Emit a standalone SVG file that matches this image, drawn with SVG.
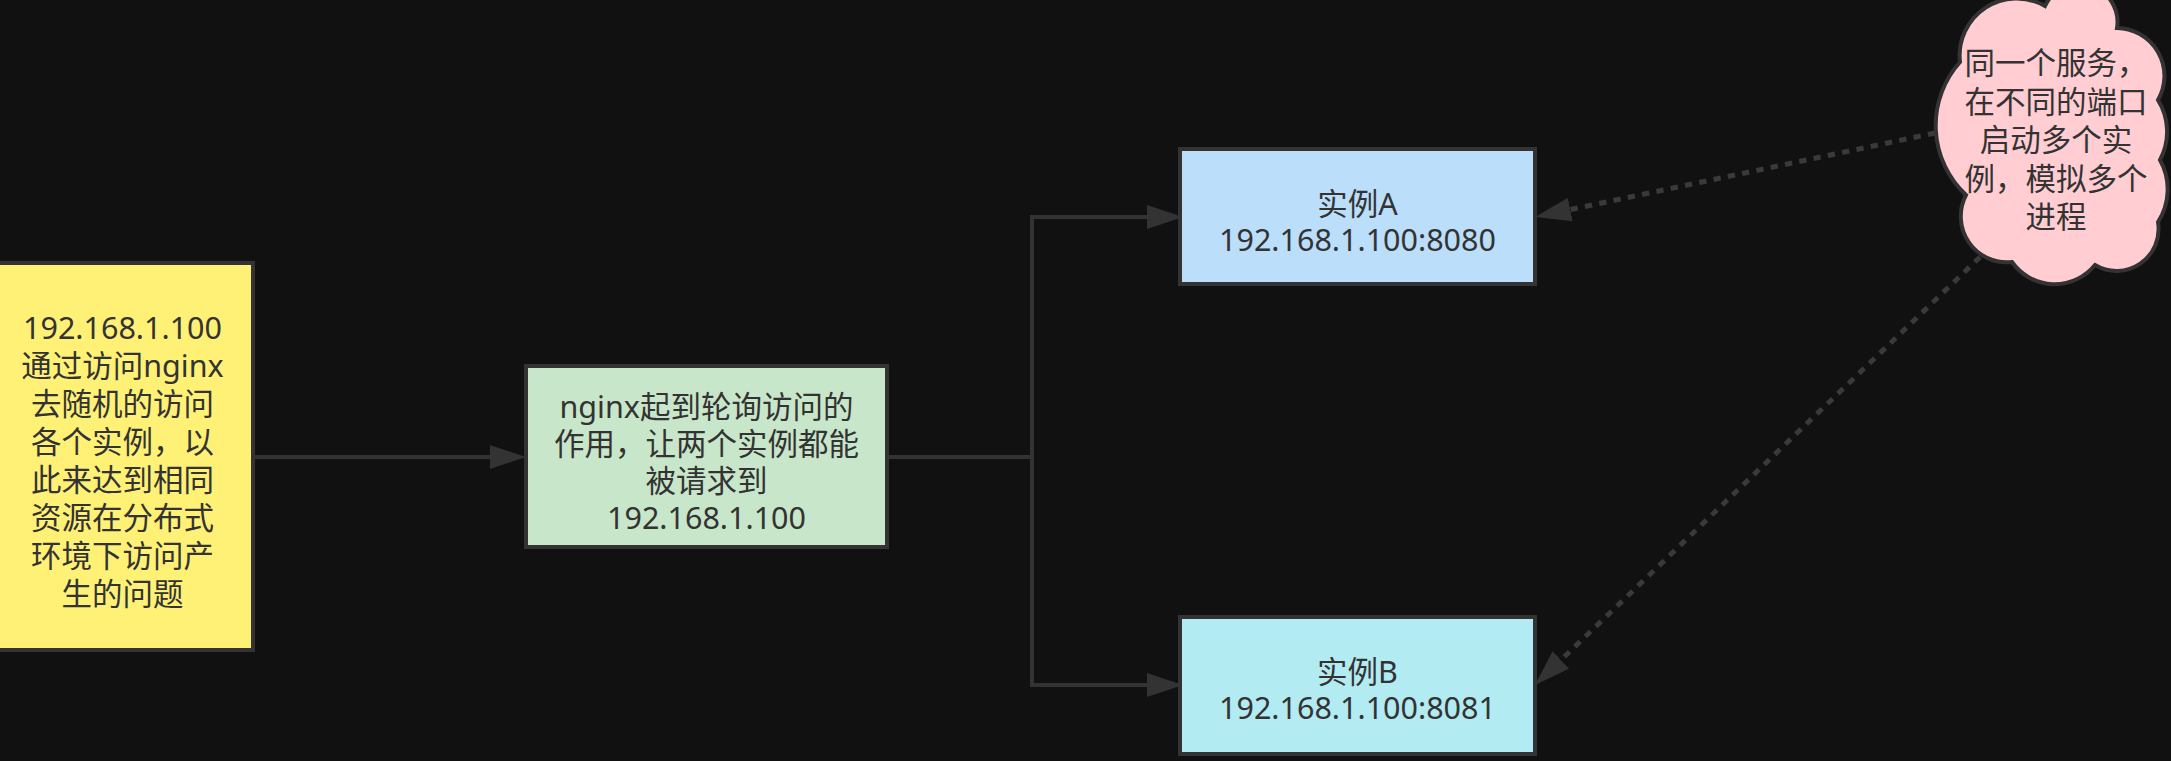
<svg xmlns="http://www.w3.org/2000/svg" width="2171" height="761" viewBox="0 0 2171 761">
<style>
.node rect, .node path { stroke: #333333; stroke-width: 4; }
.t { font-family: 'Noto Sans', 'Noto Sans CJK SC', sans-serif; font-size: 30.5px; fill: #333333; text-anchor: middle; }
.edge { fill: none; stroke: #333333; stroke-width: 4; }
.dash { stroke: #3a3a3a; stroke-width: 5; stroke-dasharray: 7.3 7.3; }
</style>
<defs>
<marker id="arrow" markerUnits="userSpaceOnUse" markerWidth="36" markerHeight="24" refX="16" refY="12" orient="auto" viewBox="0 0 36 24">
<path d="M0,0 L36,12 L0,24 Z" fill="#333333"/>
</marker>
</defs>
<rect x="0" y="0" width="2171" height="761" fill="#111111"/>
<g id="connectors">
<path class="edge" d="M253,457 H506" marker-end="url(#arrow)"/>
<path class="edge" d="M887,457 H1032 V217 H1163" marker-end="url(#arrow)"/>
<path class="edge" d="M887,457 H1032 V685 H1163" marker-end="url(#arrow)"/>
<path class="edge dash" d="M1935,133 L1554.6,212.9" marker-end="url(#arrow)"/>
<path class="edge dash" d="M1980,257 L1549.4,671.1" marker-end="url(#arrow)"/>
</g>
<g id="node-client" class="node">
<rect x="-8" y="263" width="261" height="387" fill="#FFF176"/>
<text class="t" x="122.5" y="339">192.168.1.100<tspan x="122.5" dy="38">通过访问nginx</tspan><tspan x="122.5" dy="38">去随机的访问</tspan><tspan x="122.5" dy="38">各个实例，以</tspan><tspan x="122.5" dy="38">此来达到相同</tspan><tspan x="122.5" dy="38">资源在分布式</tspan><tspan x="122.5" dy="38">环境下访问产</tspan><tspan x="122.5" dy="38">生的问题</tspan></text>
</g>
<g id="node-nginx" class="node">
<rect x="526" y="366" width="361" height="181" fill="#C8E6C9"/>
<text class="t" x="706.5" y="418">nginx起到轮询访问的<tspan x="706.5" dy="37">作用，让两个实例都能</tspan><tspan x="706.5" dy="37">被请求到</tspan><tspan x="706.5" dy="37">192.168.1.100</tspan></text>
</g>
<g id="node-instance-a" class="node">
<rect x="1180" y="149" width="355" height="135" fill="#BBDEFB"/>
<text class="t" x="1357.5" y="214.5">实例A<tspan x="1357.5" dy="36">192.168.1.100:8080</tspan></text>
</g>
<g id="node-instance-b" class="node">
<rect x="1180" y="617" width="355" height="137" fill="#B2EBF2"/>
<text class="t" x="1357.5" y="683">实例B<tspan x="1357.5" dy="36">192.168.1.100:8081</tspan></text>
</g>
<g id="node-cloud" class="node">
<path d="M2045,6 A38 38 0 0 1 2117,28 A48 48 0 0 1 2158,100 A60 60 0 0 1 2160,160 A60 60 0 0 1 2158,222 A42 42 0 0 1 2095,265 A52 52 0 0 1 2012,262 A46 46 0 0 1 1966,195 A95 95 0 0 1 1960,62 A57 57 0 0 1 2045,6 Z" fill="#FFCDD2"/>
<text class="t" x="2056" y="74">同一个服务，<tspan x="2056" dy="38.5">在不同的端口</tspan><tspan x="2056" dy="38.5">启动多个实</tspan><tspan x="2056" dy="38.5">例，模拟多个</tspan><tspan x="2056" dy="38">进程</tspan></text>
</g>
</svg>
